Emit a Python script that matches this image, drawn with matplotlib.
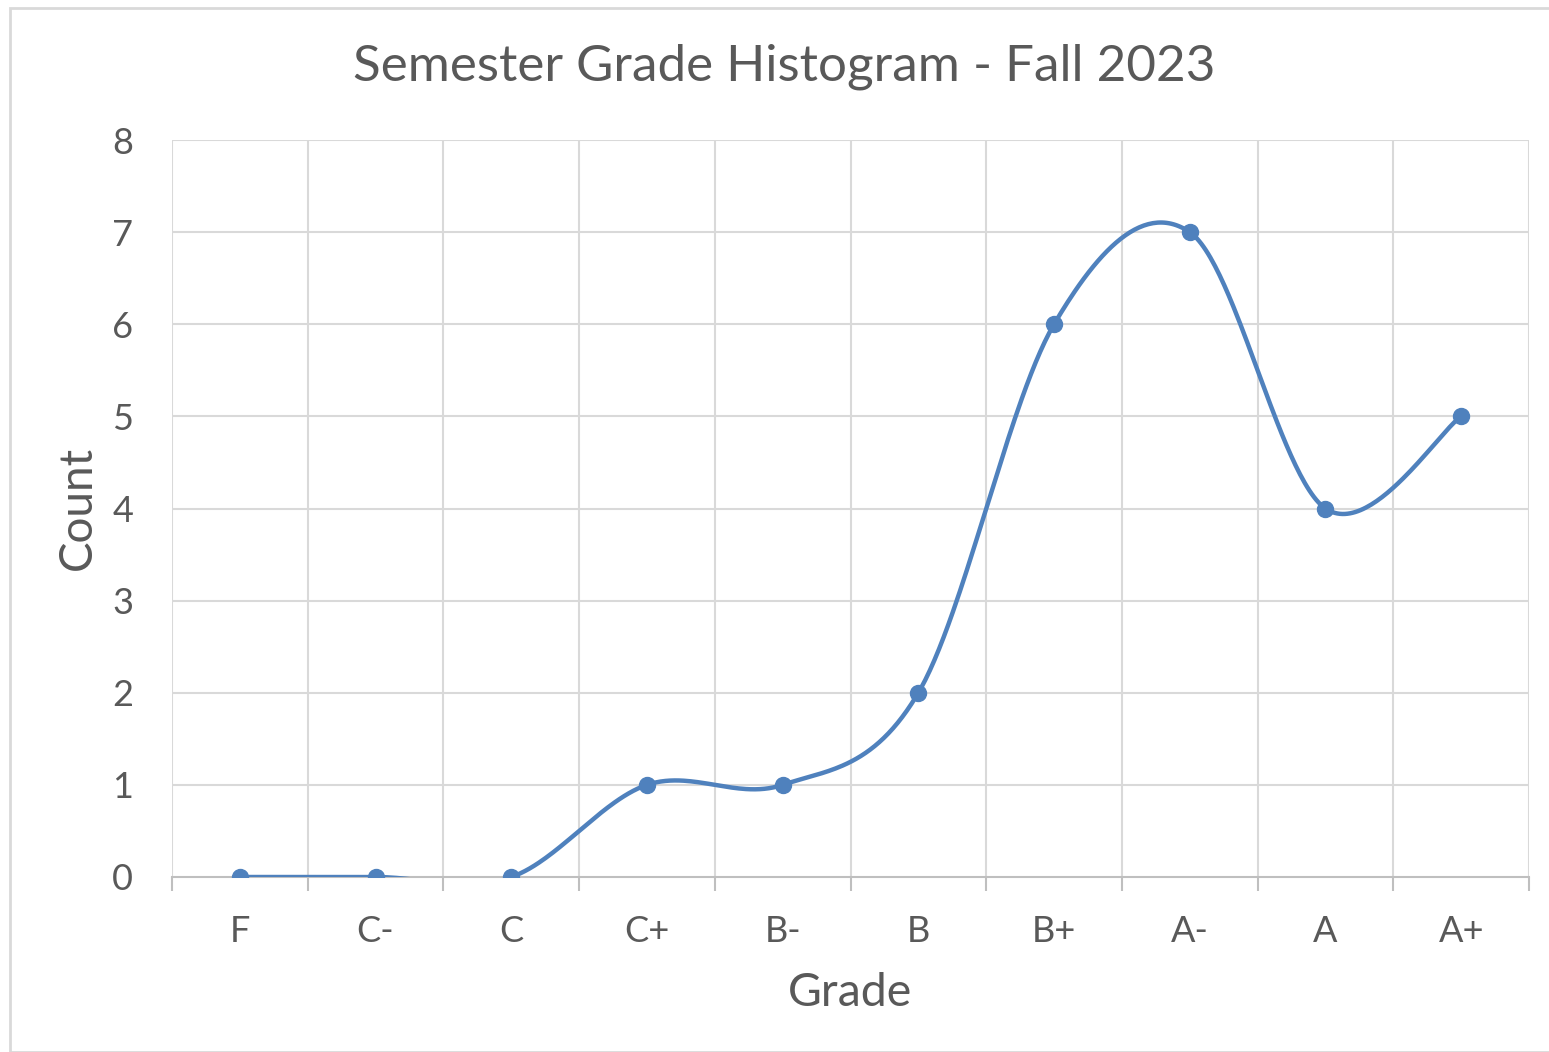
import numpy as np
import matplotlib
matplotlib.use('Agg')
import matplotlib.pyplot as plt
from matplotlib.patches import Rectangle

# 데이터
grades = ['F', 'C-', 'C', 'C+', 'B-', 'B', 'B+', 'A-', 'A', 'A+']
counts = [0, 0, 0, 1, 1, 2, 6, 7, 4, 5]

LINE_C = '#4f81bd'
TEXT_C = '#595959'
GRID_C = '#d9d9d9'

plt.rcParams['font.family'] = ['Lato', 'DejaVu Sans']


def smooth_line(x, y, n=60):
    # Excel 스타일 곡선 (Catmull-Rom 접선의 베지어)
    x = np.asarray(x, float)
    y = np.asarray(y, float)
    px = np.concatenate([[x[0]], x, [x[-1]]])
    py = np.concatenate([[y[0]], y, [y[-1]]])
    xs, ys = [], []
    t = np.linspace(0, 1, n)
    for i in range(len(x) - 1):
        p0 = np.array([px[i + 1], py[i + 1]])
        p3 = np.array([px[i + 2], py[i + 2]])
        p1 = p0 + (p3 - np.array([px[i], py[i]])) / 6
        p2 = p3 - (np.array([px[i + 3], py[i + 3]]) - p0) / 6
        b = ((1 - t) ** 3)[:, None] * p0 + (3 * (1 - t) ** 2 * t)[:, None] * p1 \
            + (3 * (1 - t) * t ** 2)[:, None] * p2 + (t ** 3)[:, None] * p3
        xs.append(b[:, 0])
        ys.append(b[:, 1])
    return np.concatenate(xs), np.concatenate(ys)


fig = plt.figure(figsize=(15.49, 10.52), dpi=100)
ax = fig.add_axes([172 / 1549, 1 - 877 / 1052, (1529 - 172) / 1549, (877 - 140) / 1052])

# 바깥 테두리
fig.patches.append(Rectangle((10 / 1549, 0), 1 - 10 / 1549 + 0.01, 1 - 8 / 1052,
                             transform=fig.transFigure, fill=False,
                             edgecolor='#d9d9d9', linewidth=2))

xpos = np.arange(len(grades))
sx, sy = smooth_line(xpos, counts)
ax.plot(sx, sy, color=LINE_C, linewidth=3.2, solid_capstyle='round', zorder=3)
ax.plot(xpos, counts, 'o', color=LINE_C, markersize=11.5, zorder=4)

ax.set_xlim(-0.5, len(grades) - 0.5)
ax.set_ylim(0, 8)
ax.set_yticks(range(0, 9))

# 격자: 범주 경계에 세로선
bounds = np.arange(-0.5, len(grades), 1.0)
for b in bounds:
    ax.axvline(b, color=GRID_C, linewidth=1.5, zorder=1)
for yv in range(1, 9):
    ax.axhline(yv, color=GRID_C, linewidth=1.5, zorder=1)

ax.set_xticks(xpos)
ax.set_xticklabels(grades)
ax.set_xticks(bounds, minor=True)
ax.tick_params(axis='x', which='major', length=0, pad=27, labelsize=26, labelcolor=TEXT_C)
ax.tick_params(axis='x', which='minor', length=10, width=1.5, color='#bfbfbf', direction='out')
ax.tick_params(axis='y', length=0, pad=28, labelsize=26, labelcolor=TEXT_C)

for s in ['top', 'right', 'left']:
    ax.spines[s].set_visible(False)
ax.spines['bottom'].set_color('#bfbfbf')
ax.spines['bottom'].set_linewidth(1.5)
ax.spines['bottom'].set_zorder(2)

fig.text(784 / 1549, 1 - 67 / 1052, 'Semester Grade Histogram - Fall 2023',
         ha='center', va='center', fontsize=36.8, color=TEXT_C)
fig.text(78 / 1549, 1 - 508 / 1052, 'Count', rotation=90,
         ha='center', va='center', fontsize=33, color=TEXT_C)
fig.text(850 / 1549, 1 - 993 / 1052, 'Grade',
         ha='center', va='center', fontsize=33.5, color=TEXT_C)

fig.savefig('out.png', dpi=100)
